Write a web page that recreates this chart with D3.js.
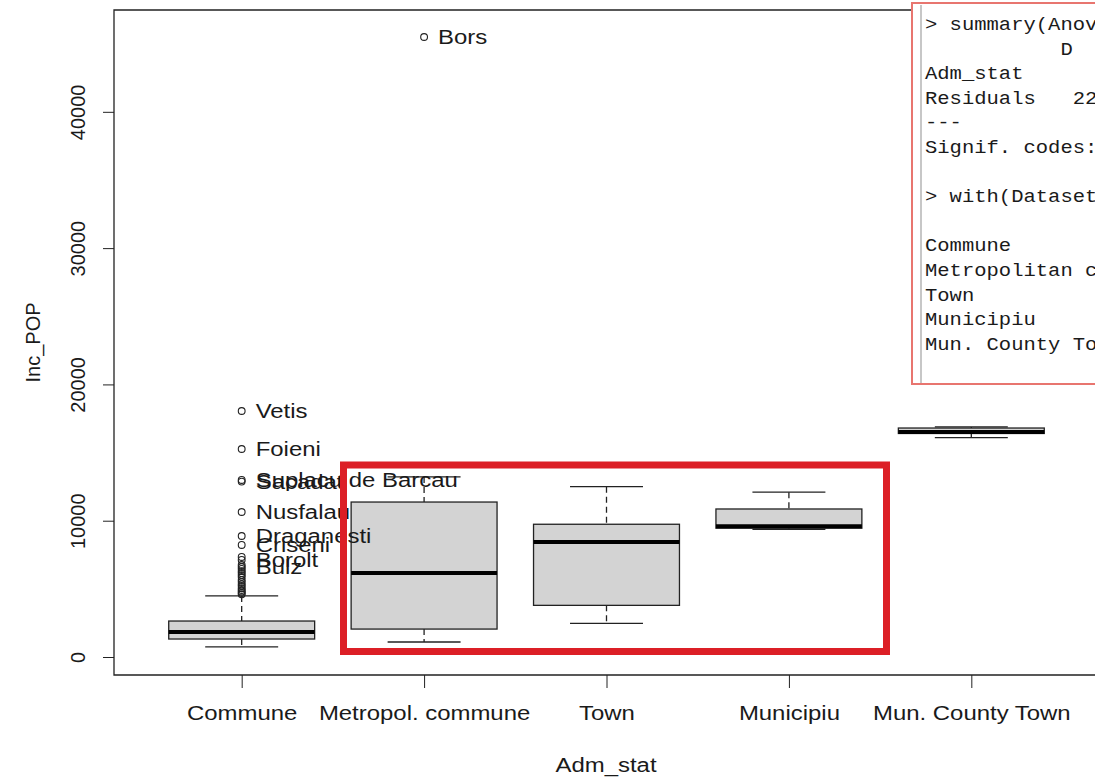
<!DOCTYPE html>
<html>
<head>
<meta charset="utf-8">
<script src="https://cdn.jsdelivr.net/npm/d3@7"></script>
<style>
  html, body { margin: 0; padding: 0; background: #fff; }
  svg { display: block; }
  text { font-family: "Liberation Sans", Arial, sans-serif; fill: #1a1a1a; }
  .mono { font-family: "Liberation Mono", "Courier New", monospace; }
</style>
</head>
<body>
<script>
// boxplot of Inc_POP by Adm_stat
const categories = ['Commune', 'Metropol. commune', 'Town', 'Municipiu', 'Mun. County Town']
const lowerWhisker = [750, 1100, 2470, 9370, 16090]
const q1 = [1320, 2050, 3790, 9450, 16400]
const median = [1830, 6160, 8440, 9600, 16500]
const q3 = [2640, 11370, 9740, 10860, 16800]
const upperWhisker = [4480, 13210, 12500, 12090, 16880]

// outliers: group index, value, label ('' = unlabeled)
const outlierGroup = [0, 0, 0, 0, 0, 0, 0, 0, 0, 0, 0, 0, 0, 0, 0, 0, 0, 0, 0, 0, 0, 0, 0, 0, 0, 1]
const outlierValue = [18050, 15260, 12990, 12870, 10640, 8880, 8220, 7120, 6600,
  4600, 4700, 4810, 4920, 5050, 5210, 5330, 5500, 5650, 5870, 6010, 6160, 6300, 6460, 6750, 7340, 45490]
const outlierLabel = ['Vetis', 'Foieni', 'Suplacu de Barcau', 'Sacadat', 'Nusfalau', 'Draganesti', 'Criseni', 'Borolt', 'Bulz',
  '', '', '', '', '', '', '', '', '', '', '', '', '', '', '', '', 'Bors']

const yTicks = [0, 10000, 20000, 30000, 40000]

// console pane text
const consoleLines = ['> summary(Anov', '           D', 'Adm_stat', 'Residuals   22', '---', 'Signif. codes:', '',
  '> with(Dataset', '', 'Commune', 'Metropolitan c', 'Town', 'Municipiu', 'Mun. County Tow']

const W = 1095, H = 777
const plot = { left: 114, right: 1099, top: 10, bottom: 675 }
const stretch = 'scale(1.14,1)'

const svg = d3.select('body').append('svg')
  .attr('width', W)
  .attr('height', H)

const x = d3.scalePoint()
  .domain(categories)
  .range([plot.left, plot.right])
  .padding(0.7)

const y = d3.scaleLinear()
  .domain([-1320, 47470])
  .range([plot.bottom, plot.top])

const step = x.step()
const boxHalf = 0.4 * step
const stapleHalf = 0.2 * step

// y axis
const yAxis = svg.append('g')
  .attr('transform', `translate(${plot.left},0)`)
  .call(d3.axisLeft(y).tickValues(yTicks).tickSize(11).tickFormat(d3.format('d')))
yAxis.select('.domain').remove()
yAxis.selectAll('line').attr('stroke', '#222')
yAxis.selectAll('text')
  .attr('x', 0)
  .attr('y', -29)
  .attr('dy', 0)
  .attr('transform', 'rotate(-90)')
  .attr('text-anchor', 'middle')
  .style('font-size', '20px')
  .style('font-family', '"Liberation Sans", Arial, sans-serif')
  .attr('fill', '#1a1a1a')

// x axis
const xAxis = svg.append('g')
  .attr('transform', `translate(0,${plot.bottom})`)
  .call(d3.axisBottom(x).tickSize(13))
xAxis.select('.domain').remove()
xAxis.selectAll('line').attr('stroke', '#222')
xAxis.selectAll('text')
  .attr('y', 45)
  .attr('dy', 0)
  .attr('transform', stretch)
  .style('font-size', '21px')
  .style('font-family', '"Liberation Sans", Arial, sans-serif')
  .attr('fill', '#1a1a1a')

// frame
svg.append('path')
  .attr('d', `M${plot.right},${plot.top}H${plot.left}V${plot.bottom}H${plot.right}`)
  .attr('fill', 'none')
  .attr('stroke', '#222')
  .attr('stroke-width', 1.3)

// axis titles
svg.append('text')
  .attr('transform', `translate(606,772) ${stretch}`)
  .attr('text-anchor', 'middle')
  .style('font-size', '21px')
  .text('Adm_stat')

svg.append('text')
  .attr('transform', `translate(40,${(plot.top + plot.bottom) / 2}) rotate(-90)`)
  .attr('text-anchor', 'middle')
  .style('font-size', '20px')
  .text('Inc_POP')

// boxes
const stats = categories.map((c, i) => ({
  cat: c, lo: lowerWhisker[i], q1: q1[i], med: median[i], q3: q3[i], hi: upperWhisker[i]
}))

const box = svg.append('g').selectAll('g')
  .data(stats)
  .join('g')
  .attr('transform', d => `translate(${x(d.cat)},0)`)

box.append('line')
  .attr('y1', d => y(d.hi)).attr('y2', d => y(d.q3))
  .attr('stroke', '#222').attr('stroke-width', 1.3).attr('stroke-dasharray', '6,4')
box.append('line')
  .attr('y1', d => y(d.q1)).attr('y2', d => y(d.lo))
  .attr('stroke', '#222').attr('stroke-width', 1.3).attr('stroke-dasharray', '6,4')

box.append('line')
  .attr('x1', -stapleHalf).attr('x2', stapleHalf)
  .attr('y1', d => y(d.hi)).attr('y2', d => y(d.hi))
  .attr('stroke', '#222').attr('stroke-width', 1.3)
box.append('line')
  .attr('x1', -stapleHalf).attr('x2', stapleHalf)
  .attr('y1', d => y(d.lo)).attr('y2', d => y(d.lo))
  .attr('stroke', '#222').attr('stroke-width', 1.3)

box.append('rect')
  .attr('x', -boxHalf)
  .attr('width', 2 * boxHalf)
  .attr('y', d => y(d.q3))
  .attr('height', d => y(d.q1) - y(d.q3))
  .attr('fill', '#d3d3d3')
  .attr('stroke', '#222')
  .attr('stroke-width', 1.3)

box.append('line')
  .attr('x1', -boxHalf).attr('x2', boxHalf)
  .attr('y1', d => y(d.med)).attr('y2', d => y(d.med))
  .attr('stroke', '#000').attr('stroke-width', 4)

// outliers
const outliers = outlierValue.map((v, i) => ({
  cat: categories[outlierGroup[i]], v: v, label: outlierLabel[i]
}))

svg.append('g').selectAll('circle')
  .data(outliers)
  .join('circle')
  .attr('cx', d => x(d.cat))
  .attr('cy', d => y(d.v))
  .attr('r', 3.4)
  .attr('fill', 'none')
  .attr('stroke', '#222')
  .attr('stroke-width', 1.1)

svg.append('g').selectAll('text')
  .data(outliers.filter(d => d.label))
  .join('text')
  .attr('transform', d => `translate(${x(d.cat) + 14},${y(d.v) + 7}) ${stretch}`)
  .style('font-size', '21px')
  .attr('fill', '#222')
  .text(d => d.label)

// red highlight round the middle groups
svg.append('rect')
  .attr('x', 343.5).attr('y', 465)
  .attr('width', 543).attr('height', 186.5)
  .attr('fill', 'none')
  .attr('stroke', '#dc1f26')
  .attr('stroke-width', 7)

// console pane pasted on the top right
const pane = svg.append('g')
pane.append('rect')
  .attr('x', 912).attr('y', 3)
  .attr('width', 200).attr('height', 381)
  .attr('fill', '#fff')
  .attr('stroke', '#e8756f')
  .attr('stroke-width', 2)
pane.append('line')
  .attr('x1', 921).attr('x2', 921)
  .attr('y1', 5).attr('y2', 383)
  .attr('stroke', '#b4b4b4')
  .attr('stroke-width', 1.5)

pane.selectAll('text')
  .data(consoleLines)
  .join('text')
  .attr('class', 'mono')
  .attr('transform', (d, i) => `translate(925,${30 + i * 24.6}) ${stretch}`)
  .style('font-size', '18px')
  .style('white-space', 'pre')
  .attr('fill', d => d.startsWith('>') ? '#a0282d' : '#1e1e8c')
  .text(d => d)
</script>
</body>
</html>
